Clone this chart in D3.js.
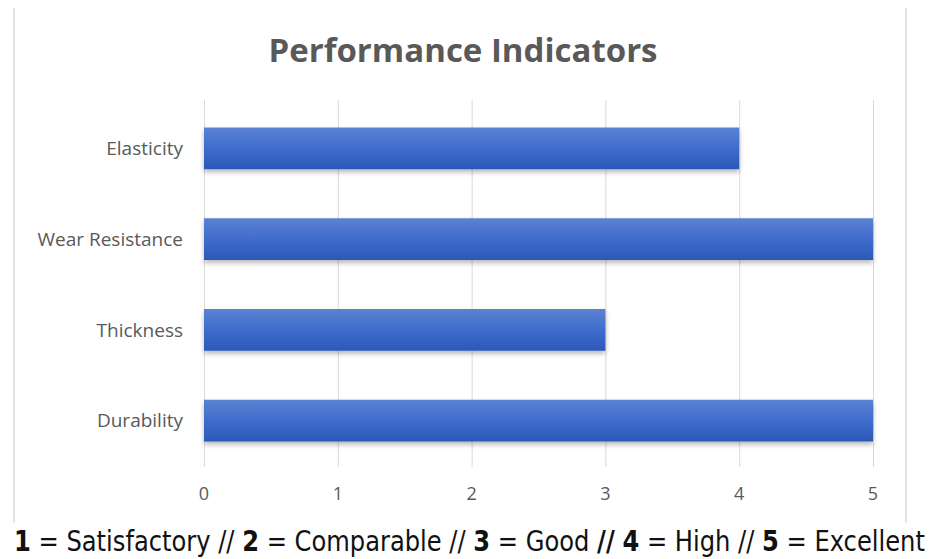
<!DOCTYPE html>
<html>
<head>
<meta charset="utf-8">
<script src="https://cdn.jsdelivr.net/npm/d3@7"></script>
<style>
  body { margin: 0; background: #fff; }
  svg { display: block; }
</style>
</head>
<body>
<div id="chart"></div>
<script>
const categories = ["Elasticity", "Wear Resistance", "Thickness", "Durability"];
const values = [4, 5, 3, 5];
const ticks = [0, 1, 2, 3, 4, 5];
const title = "Performance Indicators";
const footerParts = [
  ["1", true], [" = Satisfactory ", false], ["//", false], [" ", false],
  ["2", true], [" = Comparable ", false], ["//", false], [" ", false],
  ["3", true], [" = Good ", false], ["//", true], [" ", false],
  ["4", true], [" = High ", false], ["//", false], [" ", false],
  ["5", true], [" = Excellent", false]
];

const width = 930, height = 559;

const svg = d3.select("#chart").append("svg")
    .attr("width", width)
    .attr("height", height);

const defs = svg.append("defs");
const grad = defs.append("linearGradient")
    .attr("id", "barGrad")
    .attr("x1", 0).attr("y1", 0).attr("x2", 0).attr("y2", 1);
grad.append("stop").attr("offset", "0%").attr("stop-color", "#5b82d2");
grad.append("stop").attr("offset", "55%").attr("stop-color", "#3d6acb");
grad.append("stop").attr("offset", "100%").attr("stop-color", "#2c58b6");

defs.append("filter")
    .attr("id", "shadow")
    .attr("x", "-5%").attr("y", "-20%").attr("width", "110%").attr("height", "160%")
    .append("feDropShadow")
    .attr("dx", 0).attr("dy", 3)
    .attr("stdDeviation", 2.5)
    .attr("flood-color", "#000")
    .attr("flood-opacity", 0.28);

// chart frame (left / right edges)
svg.append("g")
    .attr("stroke", "#d9d9d9")
    .attr("stroke-width", 1.5)
    .selectAll("line")
    .data([14, 906])
    .join("line")
    .attr("x1", d => d).attr("x2", d => d)
    .attr("y1", 8).attr("y2", 523);

const x = d3.scaleLinear().domain([0, 5]).range([204, 873]);
const y = d3.scaleBand().domain(categories).range([103, 466]).paddingInner(0.54).paddingOuter(0.27);

// gridlines
svg.append("g")
    .attr("stroke", "#d9d9d9")
    .selectAll("line")
    .data(ticks)
    .join("line")
    .attr("x1", d => x(d) + 0.5).attr("x2", d => x(d) + 0.5)
    .attr("y1", 100).attr("y2", 467);

// bars
svg.append("g")
    .attr("filter", "url(#shadow)")
    .selectAll("rect")
    .data(values)
    .join("rect")
    .attr("x", x(0))
    .attr("y", (d, i) => y(categories[i]))
    .attr("width", d => x(d) - x(0))
    .attr("height", y.bandwidth())
    .attr("fill", "url(#barGrad)");

// category labels
svg.append("g")
    .attr("font-family", "'Open Sans', sans-serif")
    .attr("font-size", 19)
    .attr("fill", "#595959")
    .attr("text-anchor", "end")
    .selectAll("text")
    .data(categories)
    .join("text")
    .attr("x", 183)
    .attr("y", d => y(d) + y.bandwidth() / 2)
    .attr("dy", "0.35em")
    .text(d => d);

// tick labels
svg.append("g")
    .attr("font-family", "'Open Sans', sans-serif")
    .attr("font-size", 18)
    .attr("fill", "#595959")
    .attr("text-anchor", "middle")
    .selectAll("text")
    .data(ticks)
    .join("text")
    .attr("x", d => x(d))
    .attr("y", 500)
    .text(d => d);

// title
svg.append("text")
    .attr("x", 463)
    .attr("y", 62)
    .attr("text-anchor", "middle")
    .attr("font-family", "'Open Sans', sans-serif")
    .attr("font-weight", "bold")
    .attr("font-size", 33)
    .attr("fill", "#595959")
    .text(title);

// footer legend - squeezed horizontally to span the full width
const footer = svg.append("text")
    .attr("font-family", "'DejaVu Sans Condensed', 'Liberation Sans Narrow', sans-serif")
    .attr("font-stretch", "condensed")
    .attr("font-size", 28)
    .attr("fill", "#111");
footer.selectAll("tspan")
    .data(footerParts)
    .join("tspan")
    .attr("font-weight", d => d[1] ? "bold" : "normal")
    .text(d => d[0]);
const footerW = footer.node().getComputedTextLength();
footer.attr("transform", `translate(14,551) scale(${911 / footerW},1)`);
</script>
</body>
</html>
